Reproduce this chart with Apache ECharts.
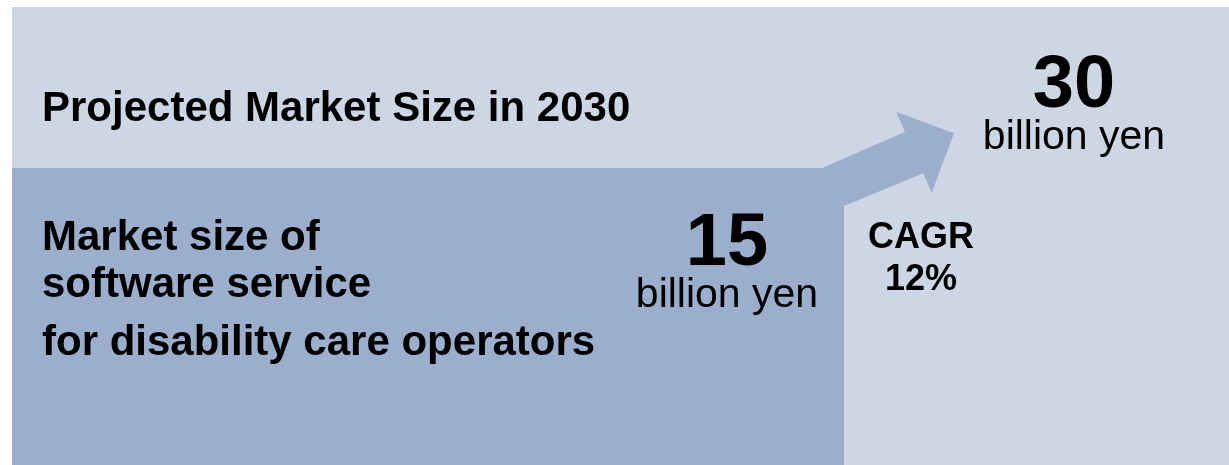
<!DOCTYPE html>
<html>
<head>
<meta charset="utf-8">
<title>Projected Market Size in 2030</title>
<script src="https://cdn.jsdelivr.net/npm/echarts@6/dist/echarts.min.js"></script>
<style>
  html, body { margin: 0; padding: 0; background: #ffffff; }
  #chart { width: 1229px; height: 465px; }
</style>
</head>
<body>
<div id="chart"></div>
<script>
// Headline and segment description
const headline = 'Projected Market Size in 2030';
const segmentLines = ['Market size of', 'software service', 'for disability care operators'];

// Market size values (billion yen): current segment, projected 2030
const marketValues = [15, 30];
const valueUnit = 'billion yen';

// Compound annual growth rate (%)
const growthName = 'CAGR';
const growthRate = 12;

const LIGHT = '#CDD6E5';
const DARK = '#9BAECC';
const FONT = 'Liberation Sans, Arial, sans-serif';

const chart = echarts.init(document.getElementById('chart'), null, { renderer: 'canvas' });

function label(text, x, y, size, weight, align) {
  return {
    type: 'text',
    x: x,
    y: y,
    style: {
      text: text,
      fill: '#000000',
      font: weight + ' ' + size + 'px ' + FONT,
      align: align || 'left',
      verticalAlign: 'middle'
    }
  };
}

const segmentY = [238, 285, 343];

const elements = [
  // projected-market panel
  { type: 'rect', shape: { x: 12, y: 7, width: 1217, height: 458 }, style: { fill: LIGHT } },
  // current-segment block
  { type: 'rect', shape: { x: 12, y: 168, width: 832, height: 297 }, style: { fill: DARK } },
  // growth arrow rising out of the block
  {
    type: 'polygon',
    shape: {
      points: [
        [821.7, 168.3], [905, 131.7], [896, 111.7], [954, 133.3],
        [931.7, 192.7], [923.3, 173.3], [844, 206], [844, 168.3]
      ]
    },
    style: { fill: DARK }
  },
  label(headline, 42, 109, 42, 'bold'),
  label(String(marketValues[0]), 727, 245, 74, 'bold', 'center'),
  label(valueUnit, 727, 296, 41, 'normal', 'center'),
  label(String(marketValues[1]), 1074, 87, 74, 'bold', 'center'),
  label(valueUnit, 1074, 138, 41, 'normal', 'center'),
  label(growthName, 921, 238, 36, 'bold', 'center'),
  label(growthRate + '%', 921, 280, 36, 'bold', 'center')
];

segmentLines.forEach(function (line, i) {
  elements.push(label(line, 42, segmentY[i], 42, 'bold'));
});

chart.setOption({
  animation: false,
  backgroundColor: '#ffffff',
  graphic: { elements: elements }
});
</script>
</body>
</html>
